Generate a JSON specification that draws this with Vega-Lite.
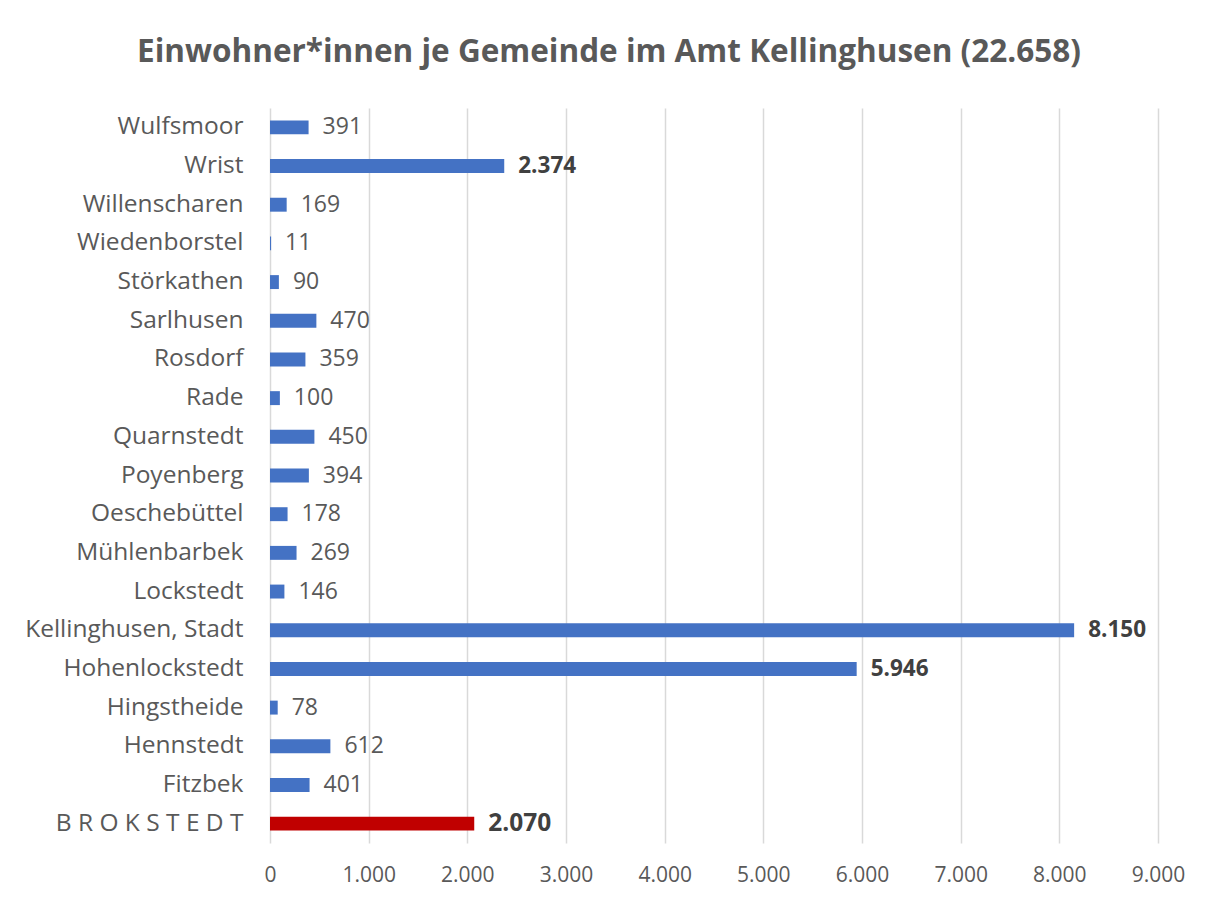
{
  "$schema": "https://vega.github.io/schema/vega-lite/v6.json",
  "autosize": "none",
  "padding": {"left": 270, "top": 108, "right": 48, "bottom": 54},
  "width": 888,
  "height": 735,
  "background": "white",
  "title": {
    "text": "Einwohner*innen je Gemeinde im Amt Kellinghusen (22.658)",
    "anchor": "middle",
    "dx": -105,
    "offset": 15,
    "baseline": "alphabetic",
    "font": "Open Sans",
    "fontSize": 31.5,
    "fontWeight": "bold",
    "color": "#595959"
  },
  "data": {
    "values": [
      {"gemeinde": "Wulfsmoor", "einwohner": 391},
      {"gemeinde": "Wrist", "einwohner": 2374},
      {"gemeinde": "Willenscharen", "einwohner": 169},
      {"gemeinde": "Wiedenborstel", "einwohner": 11},
      {"gemeinde": "Störkathen", "einwohner": 90},
      {"gemeinde": "Sarlhusen", "einwohner": 470},
      {"gemeinde": "Rosdorf", "einwohner": 359},
      {"gemeinde": "Rade", "einwohner": 100},
      {"gemeinde": "Quarnstedt", "einwohner": 450},
      {"gemeinde": "Poyenberg", "einwohner": 394},
      {"gemeinde": "Oeschebüttel", "einwohner": 178},
      {"gemeinde": "Mühlenbarbek", "einwohner": 269},
      {"gemeinde": "Lockstedt", "einwohner": 146},
      {"gemeinde": "Kellinghusen, Stadt", "einwohner": 8150},
      {"gemeinde": "Hohenlockstedt", "einwohner": 5946},
      {"gemeinde": "Hingstheide", "einwohner": 78},
      {"gemeinde": "Hennstedt", "einwohner": 612},
      {"gemeinde": "Fitzbek", "einwohner": 401},
      {"gemeinde": "B R O K S T E D T", "einwohner": 2070}
    ]
  },
  "encoding": {
    "y": {
      "field": "gemeinde",
      "type": "nominal",
      "sort": null,
      "scale": {"paddingInner": 0.64, "paddingOuter": 0.32},
      "axis": {
        "title": null,
        "domain": false,
        "ticks": false,
        "labelPadding": 27,
        "labelFont": "Open Sans",
        "labelFontSize": 24.5,
        "labelColor": "#595959",
        "labelLimit": 300
      }
    },
    "x": {
      "field": "einwohner",
      "type": "quantitative",
      "scale": {"domain": [0, 9000], "nice": false},
      "axis": {
        "title": null,
        "values": [0, 1000, 2000, 3000, 4000, 5000, 6000, 7000, 8000, 9000],
        "format": ",d",
        "domain": false,
        "ticks": false,
        "grid": true,
        "gridColor": "#d9d9d9",
        "gridWidth": 1.5,
        "labelFlush": false,
        "labelPadding": 21,
        "labelFont": "Open Sans",
        "labelFontSize": 21,
        "labelColor": "#595959"
      }
    }
  },
  "layer": [
    {
      "mark": {"type": "bar"},
      "encoding": {
        "color": {
          "condition": {"test": "datum.gemeinde == 'B R O K S T E D T'", "value": "#C00000"},
          "value": "#4472C4"
        }
      }
    },
    {
      "transform": [{"filter": "datum.einwohner < 2000"}],
      "mark": {"type": "text", "align": "left", "baseline": "middle", "dx": 14, "font": "Open Sans", "fontSize": 23, "color": "#595959"},
      "encoding": {"text": {"field": "einwohner", "type": "quantitative", "format": ",d"}}
    },
    {
      "transform": [{"filter": "datum.einwohner >= 2000 && datum.gemeinde != 'B R O K S T E D T'"}],
      "mark": {"type": "text", "align": "left", "baseline": "middle", "dx": 14, "font": "Open Sans", "fontSize": 22.5, "fontWeight": "bold", "color": "#404040"},
      "encoding": {"text": {"field": "einwohner", "type": "quantitative", "format": ",d"}}
    },
    {
      "transform": [{"filter": "datum.gemeinde == 'B R O K S T E D T'"}],
      "mark": {"type": "text", "align": "left", "baseline": "middle", "dx": 14, "font": "Open Sans", "fontSize": 24.5, "fontWeight": "bold", "color": "#404040"},
      "encoding": {"text": {"field": "einwohner", "type": "quantitative", "format": ",d"}}
    }
  ],
  "config": {
    "locale": {"number": {"decimal": ",", "thousands": ".", "grouping": [3], "currency": ["", " €"]}},
    "view": {"stroke": null}
  }
}
